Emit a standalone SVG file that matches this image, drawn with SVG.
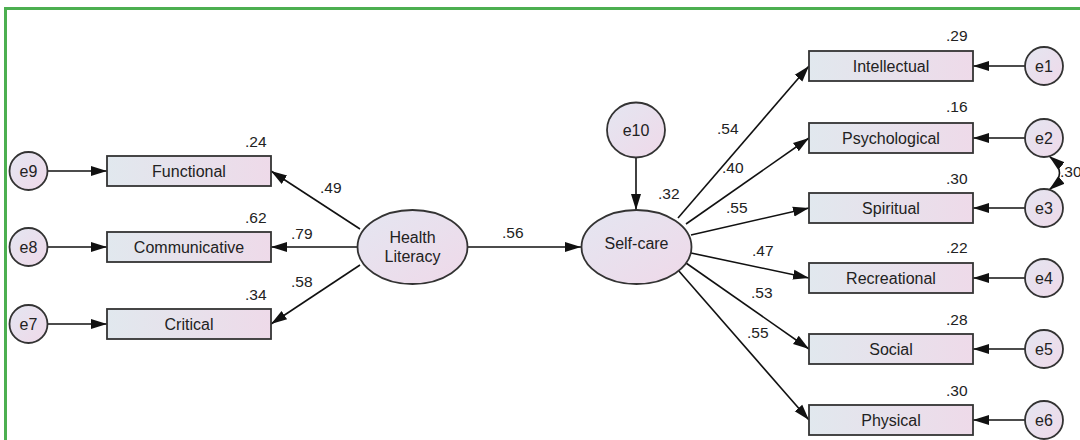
<svg xmlns="http://www.w3.org/2000/svg" width="1080" height="440" viewBox="0 0 1080 440">
<defs>
<linearGradient id="gr" x1="0" y1="0" x2="1" y2="0">
<stop offset="0" stop-color="#e1e8ee"/>
<stop offset="1" stop-color="#eedae9"/>
</linearGradient>
<linearGradient id="ge" x1="0" y1="0" x2="1" y2="1">
<stop offset="0" stop-color="#e4e6f1"/>
<stop offset="1" stop-color="#efd9e9"/>
</linearGradient>
<marker id="ah" markerUnits="userSpaceOnUse" markerWidth="18" markerHeight="14" viewBox="0 0 18 14" refX="16" refY="7" orient="auto-start-reverse">
<path d="M0,2 L16,7 L0,12 Z" fill="#111"/>
</marker>
<style>
.box{fill:url(#gr);stroke:#333;stroke-width:1.8}
.el{fill:url(#ge);stroke:#333;stroke-width:1.8}
.ln{stroke:#111;stroke-width:1.6;fill:none;marker-end:url(#ah)}
text{font-family:"Liberation Sans",Arial,sans-serif;font-size:15.5px;fill:#222}
.c{text-anchor:middle;font-size:16px}
</style>
</defs>
<rect x="0" y="0" width="1080" height="440" fill="#fff"/>
<path d="M5.5,440 V8.5 H1080" fill="none" stroke="#4caf50" stroke-width="3"/>

<g id="connectors">
<line class="ln" x1="48" y1="171" x2="107" y2="171"/>
<line class="ln" x1="48" y1="247" x2="107" y2="247"/>
<line class="ln" x1="48" y1="324" x2="107" y2="324"/>
<line class="ln" x1="360" y1="229" x2="271" y2="171"/>
<line class="ln" x1="358" y1="247" x2="271" y2="247"/>
<line class="ln" x1="360" y1="265" x2="271" y2="324"/>
<line class="ln" x1="468" y1="247" x2="581" y2="247"/>
<line class="ln" x1="636" y1="158" x2="636" y2="210"/>
<line class="ln" x1="678" y1="218" x2="809" y2="66"/>
<line class="ln" x1="686" y1="224" x2="809" y2="138"/>
<line class="ln" x1="691" y1="235" x2="809" y2="208"/>
<line class="ln" x1="691" y1="253" x2="809" y2="278"/>
<line class="ln" x1="686" y1="263" x2="809" y2="349"/>
<line class="ln" x1="678" y1="270" x2="809" y2="420"/>
<line class="ln" x1="1025" y1="66" x2="973" y2="66"/>
<line class="ln" x1="1025" y1="138" x2="973" y2="138"/>
<line class="ln" x1="1025" y1="208" x2="973" y2="208"/>
<line class="ln" x1="1025" y1="278" x2="973" y2="278"/>
<line class="ln" x1="1025" y1="349" x2="973" y2="349"/>
<line class="ln" x1="1025" y1="420" x2="973" y2="420"/>
<path class="ln" d="M1049,156 Q1070,173 1049,190" style="marker-start:url(#ah)"/>
</g>

<g id="e9"><circle class="el" cx="28.5" cy="171" r="19"/><text class="c" x="28.5" y="176.5">e9</text></g>
<g id="e8"><circle class="el" cx="28.5" cy="247" r="19"/><text class="c" x="28.5" y="252.5">e8</text></g>
<g id="e7"><circle class="el" cx="28.5" cy="324" r="19"/><text class="c" x="28.5" y="329.5">e7</text></g>

<g id="functional"><rect class="box" x="107" y="156" width="164" height="30"/><text class="c" x="189" y="176.5">Functional</text><text x="245" y="147">.24</text></g>
<g id="communicative"><rect class="box" x="107" y="232" width="164" height="30"/><text class="c" x="189" y="252.5">Communicative</text><text x="245" y="223">.62</text></g>
<g id="critical"><rect class="box" x="107" y="309" width="164" height="30"/><text class="c" x="189" y="329.5">Critical</text><text x="245" y="300">.34</text></g>

<g id="health-literacy"><ellipse class="el" cx="412.5" cy="247" rx="55" ry="37"/><text class="c" x="412.5" y="243">Health</text><text class="c" x="412.5" y="262">Literacy</text></g>
<g id="self-care"><ellipse class="el" cx="636.5" cy="247" rx="55" ry="37"/><text class="c" x="636.5" y="249">Self-care</text><text x="658" y="199">.32</text></g>
<g id="e10"><ellipse class="el" cx="636" cy="130" rx="29" ry="27.5"/><text class="c" x="636" y="135.5">e10</text></g>

<g id="intellectual"><rect class="box" x="809" y="51" width="164" height="30"/><text class="c" x="891" y="71.5">Intellectual</text><text x="946" y="41">.29</text></g>
<g id="psychological"><rect class="box" x="809" y="123" width="164" height="30"/><text class="c" x="891" y="143.5">Psychological</text><text x="946" y="112">.16</text></g>
<g id="spiritual"><rect class="box" x="809" y="193" width="164" height="30"/><text class="c" x="891" y="213.5">Spiritual</text><text x="946" y="184">.30</text></g>
<g id="recreational"><rect class="box" x="809" y="263" width="164" height="30"/><text class="c" x="891" y="283.5">Recreational</text><text x="946" y="253">.22</text></g>
<g id="social"><rect class="box" x="809" y="334" width="164" height="30"/><text class="c" x="891" y="354.5">Social</text><text x="946" y="325">.28</text></g>
<g id="physical"><rect class="box" x="809" y="405" width="164" height="30"/><text class="c" x="891" y="425.5">Physical</text><text x="946" y="396">.30</text></g>

<g id="e1"><circle class="el" cx="1044" cy="66" r="19"/><text class="c" x="1044" y="71.5">e1</text></g>
<g id="e2"><circle class="el" cx="1044" cy="138" r="19"/><text class="c" x="1044" y="143.5">e2</text></g>
<g id="e3"><circle class="el" cx="1044" cy="208" r="19"/><text class="c" x="1044" y="213.5">e3</text></g>
<g id="e4"><circle class="el" cx="1044" cy="278" r="19"/><text class="c" x="1044" y="283.5">e4</text></g>
<g id="e5"><circle class="el" cx="1044" cy="349" r="19"/><text class="c" x="1044" y="354.5">e5</text></g>
<g id="e6"><circle class="el" cx="1044" cy="420" r="19"/><text class="c" x="1044" y="425.5">e6</text></g>

<g id="path-labels">
<text x="320" y="193">.49</text>
<text x="291" y="239">.79</text>
<text x="291" y="287">.58</text>
<text x="502" y="238">.56</text>
<text x="717" y="134">.54</text>
<text x="722" y="173">.40</text>
<text x="726" y="213">.55</text>
<text x="752" y="256">.47</text>
<text x="751" y="298">.53</text>
<text x="747" y="338">.55</text>
<text x="1060" y="177">.30</text>
</g>
</svg>
